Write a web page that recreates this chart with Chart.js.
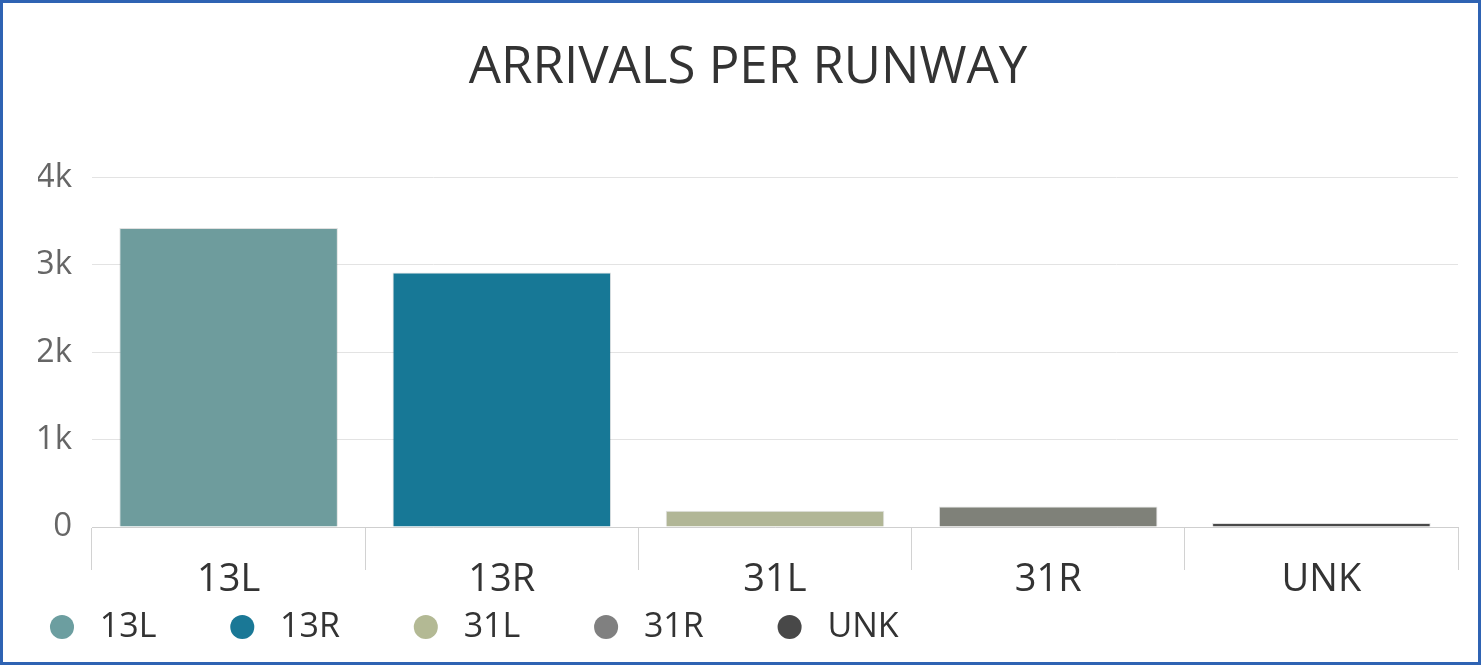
<!DOCTYPE html>
<html>
<head>
<meta charset="utf-8">
<script src="https://cdn.jsdelivr.net/npm/chart.js@4/dist/chart.umd.min.js"></script>
<style>
  body { margin: 0; background: #fff; }
  #frame { width: 1481px; height: 665px; box-sizing: border-box; border: 3px solid #2f63b3; background: #fff; }
  #chart { display: block; }
</style>
</head>
<body>
<div id="frame"><canvas id="chart" width="1475" height="659"></canvas></div>
<script>
// Data
const runways = ['13L', '13R', '31L', '31R', 'UNK'];
const arrivals = [3420, 2910, 185, 235, 45];
const barColors = ['#6e9c9d', '#177896', '#b1b696', '#7f8179', '#494949'];
const legendColors = ['#6c9ea0', '#1a7896', '#b3b994', '#808080', '#484848'];
const yTicks = [0, 1000, 2000, 3000, 4000];

const font = "'Open Sans', sans-serif";

const ctx = document.getElementById('chart').getContext('2d');
new Chart(ctx, {
    type: 'bar',
    data: {
        labels: runways,
        datasets: [{
            label: 'Arrivals',
            data: arrivals,
            backgroundColor: barColors,
            borderColor: 'rgba(0,0,0,0.12)',
            borderWidth: 1,
            borderSkipped: 'bottom',
            categoryPercentage: 1,
            barPercentage: 0.8
        }]
    },
    options: {
        responsive: false,
        animation: false,
        layout: { padding: { left: 35, right: 20, top: 0, bottom: 8 } },
        plugins: {
            tooltip: { enabled: false },
            title: {
                display: true,
                text: 'ARRIVALS PER RUNWAY',
                color: '#333',
                font: { family: font, size: 51, weight: 'normal' },
                padding: { top: 35, bottom: 78 }
            },
            legend: {
                position: 'bottom',
                align: 'start',
                labels: {
                    usePointStyle: true,
                    pointStyle: 'circle',
                    boxWidth: 24,
                    boxHeight: 17,
                    padding: 12,
                    color: '#333',
                    font: { family: font, size: 34 },
                    // one legend entry per runway, spaced out like the original
                    generateLabels: (chart) => runways.map((r, i) => ({
                        text: ' ' + r + '       ',
                        fillStyle: legendColors[i],
                        strokeStyle: legendColors[i],
                        lineWidth: 0,
                        pointStyle: 'circle',
                        fontColor: '#333',
                        index: i
                    }))
                }
            }
        },
        scales: {
            x: {
                offset: true,
                afterFit: (scale) => { scale.height = 71; },
                grid: {
                    offset: true,
                    drawOnChartArea: false,
                    color: '#d2d2d2',
                    tickLength: 43
                },
                border: { color: '#cfcfcf' },
                ticks: {
                    color: '#333',
                    padding: -13,
                    font: { family: font, size: 38 }
                }
            },
            y: {
                min: 0,
                max: 4000,
                afterFit: (scale) => { scale.width = 54; },
                afterBuildTicks: (scale) => { scale.ticks = yTicks.map(v => ({ value: v })); },
                grid: { color: '#e3e3e3', drawTicks: false },
                border: { display: false },
                ticks: {
                    color: '#666',
                    padding: 20,
                    font: { family: font, size: 33 },
                    callback: (v) => v === 0 ? '0' : (v / 1000) + 'k'
                }
            }
        }
    }
});
</script>
</body>
</html>
